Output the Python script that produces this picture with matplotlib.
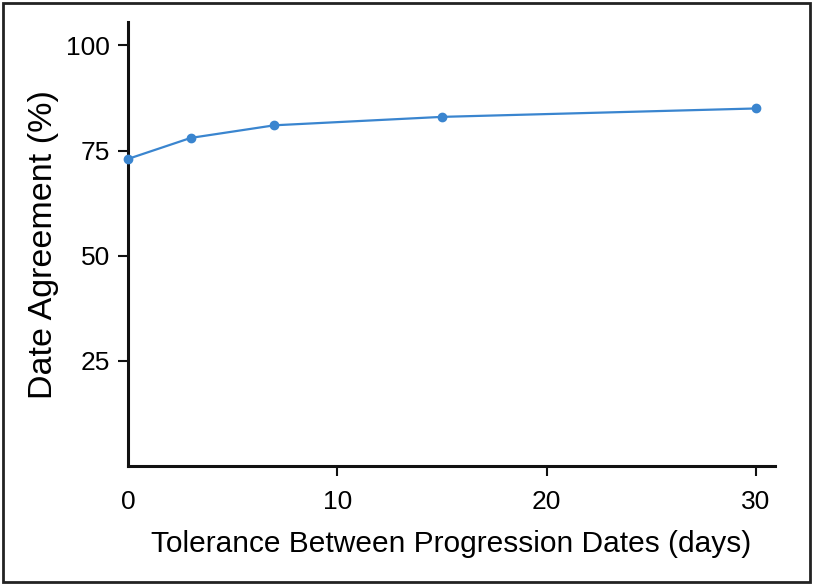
import matplotlib
matplotlib.use("Agg")
import matplotlib.pyplot as plt
from matplotlib.patches import Rectangle

# tolerance (days) vs date agreement (%)
tolerance_days = [0, 3, 7, 15, 30]
agreement_pct = [73, 78, 81, 83, 85]

x_ticks = [0, 10, 20, 30]
y_ticks = [25, 50, 75, 100]

plt.rcParams['font.family'] = ['Liberation Sans', 'DejaVu Sans']

fig = plt.figure(figsize=(8.13, 5.85), dpi=100)
ax = fig.add_axes([0.1574, 0.2034, 0.7956, 0.7586])

line_col = '#3a85cf'
ax.plot(tolerance_days, agreement_pct, color=line_col, lw=1.6,
        marker='o', ms=6, zorder=3, clip_on=False)

ax.set_xlim(0, 30.9)
ax.set_ylim(0, 105.5)
ax.set_xticks(x_ticks)
ax.set_yticks(y_ticks)
ax.tick_params(axis='both', labelsize=19, width=1.5, length=7, color='#111111')
ax.tick_params(axis='x', pad=10)
ax.tick_params(axis='y', pad=6)
ax.xaxis.get_major_ticks()[0].tick1line.set_visible(False)

for s in ['top', 'right']:
    ax.spines[s].set_visible(False)
for s in ['left', 'bottom']:
    ax.spines[s].set_linewidth(2.2)
    ax.spines[s].set_color('#111111')

ax.set_xlabel('Tolerance Between Progression Dates (days)', fontsize=21.5, labelpad=12)
ax.set_ylabel('Date Agreement (%)', fontsize=24.5, labelpad=5)

# frame around the whole figure
fig.patches.append(Rectangle((0.004, 0.005), 0.992, 0.99, transform=fig.transFigure,
                             fill=False, lw=2, edgecolor='#222222'))

fig.savefig('out.png', dpi=100)
